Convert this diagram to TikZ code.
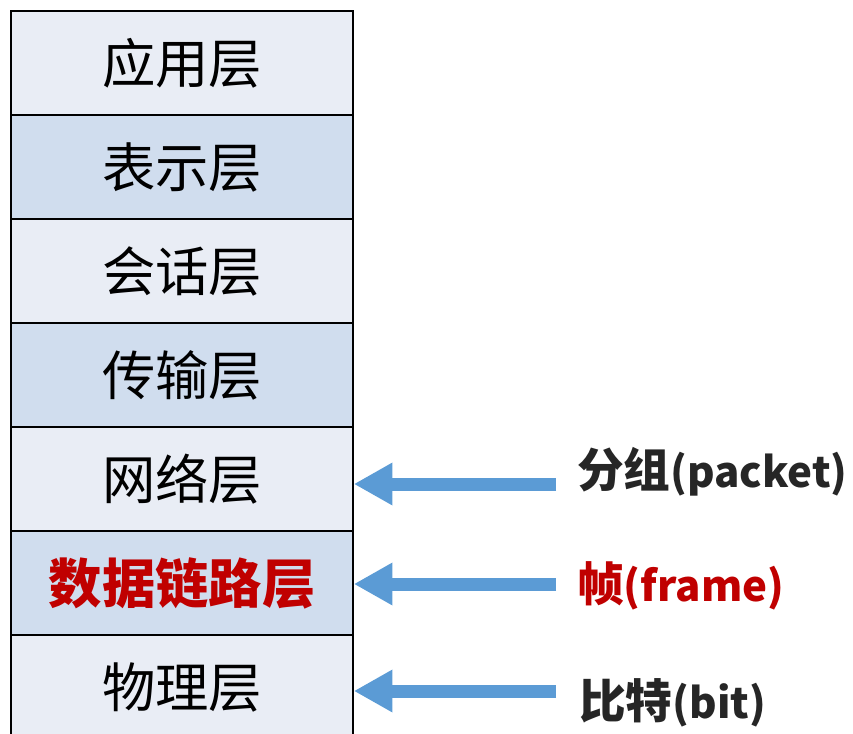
\documentclass[tikz,border=0pt]{standalone}
\usepackage{fontspec}
\setmainfont{Noto Sans CJK SC}
\usetikzlibrary{arrows.meta}
\definecolor{layerlight}{HTML}{E9EDF5}
\definecolor{layerdark}{HTML}{D0DDEE}
\definecolor{flowblue}{HTML}{5B9BD5}
\definecolor{framered}{HTML}{C00000}
\definecolor{taggray}{HTML}{262626}
\newcommand{\unitname}[1]{{\fontsize{31.5}{40}\selectfont #1}}

\begin{document}
\begin{tikzpicture}[>= {Triangle[length=29pt,width=30pt]},x=0.75pt,y=-0.75pt,
    layer/.style={draw=black,line width=1.2pt,inner sep=0pt,minimum width=256.5pt,minimum height=78pt,font=\fontsize{40}{44}\selectfont},
    tag/.style={anchor=west,inner sep=0pt,text=taggray,font=\fontsize{35}{40}\selectfont\bfseries},
    flow/.style={->,draw=flowblue,line width=9.75pt}]
         \useasboundingbox (0,0) rectangle (853,734);
         % the seven layers
         \node[layer,fill=layerlight] (app) at (182,63) {应用层};
         \node[layer,fill=layerdark] (pres) at (182,167) {表示层};
         \node[layer,fill=layerlight] (sess) at (182,271) {会话层};
         \node[layer,fill=layerdark] (trans) at (182,375) {传输层};
         \node[layer,fill=layerlight] (net) at (182,479) {网络层};
         \node[layer,fill=layerdark,text=framered,font=\fontsize{40}{44}\selectfont\bfseries] (link) at (182,583) {数据链路层};
         \node[layer,fill=layerlight] (phys) at (182,687) {物理层};
         % data units
         \node[tag] (pkt) at (577,472) {分组\unitname{(packet)}};
         \node[tag,text=framered] (frm) at (577,586) {帧\unitname{(frame)}};
         \node[tag] (bit) at (579,703) {比特\unitname{(bit)}};
         \coordinate (pkt-s) at (556,484);
         \coordinate (frm-s) at (556,584);
         \coordinate (bit-s) at (556,691);
         \draw[flow] (pkt-s) -- (net.east |- pkt-s);
         \draw[flow] (frm-s) -- (link.east |- frm-s);
         \draw[flow] (bit-s) -- (phys.east |- bit-s);
        \end{tikzpicture}
\end{document}
